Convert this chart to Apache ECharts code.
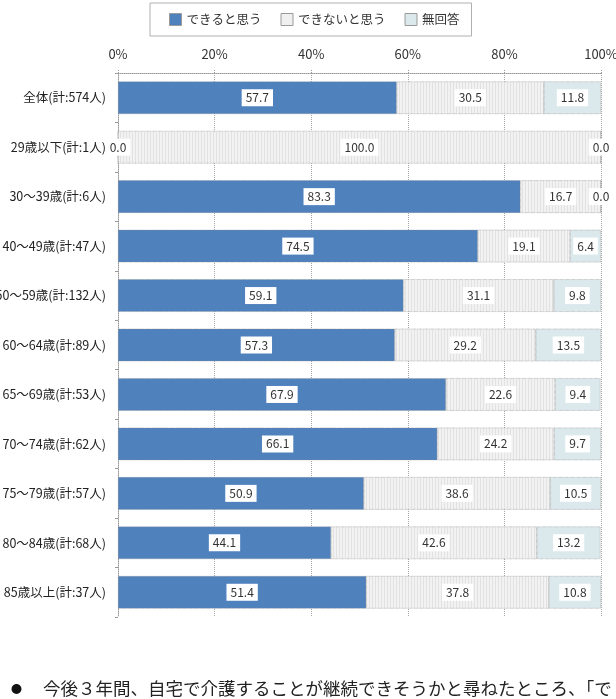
<!DOCTYPE html>
<html>
<head>
<meta charset="utf-8">
<script src="https://cdn.jsdelivr.net/npm/echarts@6/dist/echarts.min.js"></script>
<style>
  html, body { margin: 0; padding: 0; background: #fff; }
  #chart { width: 616px; height: 699px; }
</style>
</head>
<body>
<div id="chart"></div>
<script>
// カテゴリ
const categories = [
  "全体(計:574人)",
  "29歳以下(計:1人)",
  "30〜39歳(計:6人)",
  "40〜49歳(計:47人)",
  "50〜59歳(計:132人)",
  "60〜64歳(計:89人)",
  "65〜69歳(計:53人)",
  "70〜74歳(計:62人)",
  "75〜79歳(計:57人)",
  "80〜84歳(計:68人)",
  "85歳以上(計:37人)"
];
const seriesNames = ["できると思う", "できないと思う", "無回答"];
const canDo = [57.7, 0.0, 83.3, 74.5, 59.1, 57.3, 67.9, 66.1, 50.9, 44.1, 51.4];
const cannotDo = [30.5, 100.0, 16.7, 19.1, 31.1, 29.2, 22.6, 24.2, 38.6, 42.6, 37.8];
const noAnswer = [11.8, 0.0, 0.0, 6.4, 9.8, 13.5, 9.4, 9.7, 10.5, 13.2, 10.8];
const xTicks = [0, 20, 40, 60, 80, 100];

const FONT = "'Noto Sans CJK JP', 'Noto Sans', sans-serif";

// 縦縞のパターン
function stripe(bg, line) {
  const c = document.createElement("canvas");
  c.width = 3;
  c.height = 3;
  const ctx = c.getContext("2d");
  ctx.fillStyle = bg;
  ctx.fillRect(0, 0, 3, 3);
  ctx.fillStyle = line;
  ctx.fillRect(0, 0, 1, 3);
  return { image: c, repeat: "repeat" };
}

const colors = ["#4f81bd", stripe("#f2f2f2", "#e2e2e2"), "#dbe9ed"];
const datas = [canDo, cannotDo, noAnswer];

const chart = echarts.init(document.getElementById("chart"));

const labelStyle = {
  show: true,
  position: "inside",
  formatter: (p) => p.value.toFixed(1),
  color: "#333",
  fontSize: 12,
  fontFamily: FONT,
  backgroundColor: "#fff",
  padding: [3, 4, 2, 4]
};

const series = seriesNames.map((name, i) => ({
  name: name,
  type: "bar",
  stack: "total",
  barWidth: "66%",
  data: datas[i],
  itemStyle: {
    color: colors[i],
    borderColor: "#8c8c8c",
    borderWidth: 0.6,
    borderType: "dotted"
  },
  label: labelStyle,
  emphasis: { disabled: true }
}));

chart.setOption({
  animation: false,
  textStyle: { fontFamily: FONT },
  legend: {
    top: 3,
    left: 150,
    icon: "rect",
    data: seriesNames.map((n, i) => ({
      name: n,
      itemStyle: {
        color: i === 1 ? "#f0f0f0" : colors[i],
        borderColor: "#9a9a9a",
        borderWidth: 1
      }
    })),
    itemWidth: 12,
    itemHeight: 12,
    itemGap: 19,
    padding: [10, 12, 10, 19],
    borderColor: "#b0b0b0",
    borderWidth: 1,
    textStyle: { fontSize: 12.5, color: "#333", fontFamily: FONT }
  },
  grid: {
    left: 118,
    right: 15,
    top: 73,
    height: 544,
    containLabel: false,
    outerBoundsMode: "none"
  },
  xAxis: {
    type: "value",
    position: "top",
    min: 0,
    max: 100,
    interval: 20,
    axisLabel: {
      formatter: (v) => (xTicks.includes(v) ? v + "%" : ""),
      color: "#333",
      fontSize: 13,
      margin: 12
    },
    axisLine: { show: true, lineStyle: { color: "#999", type: "dotted" } },
    axisTick: { show: true, length: 4, lineStyle: { color: "#999", type: "dotted" } },
    splitLine: { show: true, lineStyle: { color: "#a6a6a6", type: "dotted" } }
  },
  yAxis: {
    type: "category",
    inverse: true,
    data: categories,
    axisLabel: { color: "#222", fontSize: 12.5, margin: 12 },
    axisLine: { show: true, lineStyle: { color: "#999", type: "dotted" } },
    axisTick: { show: true, length: 3, lineStyle: { color: "#999" } }
  },
  series: series,
  graphic: [
    {
      type: "text",
      left: 11,
      top: 683,
      style: { text: "●", fontSize: 11, fill: "#111", fontFamily: FONT }
    },
    {
      type: "text",
      left: 43,
      top: 680,
      style: {
        text: "今後３年間、自宅で介護することが継続できそうかと尋ねたところ、「で",
        fontSize: 17.5,
        fill: "#222",
        fontFamily: FONT
      }
    }
  ]
});
</script>
</body>
</html>
